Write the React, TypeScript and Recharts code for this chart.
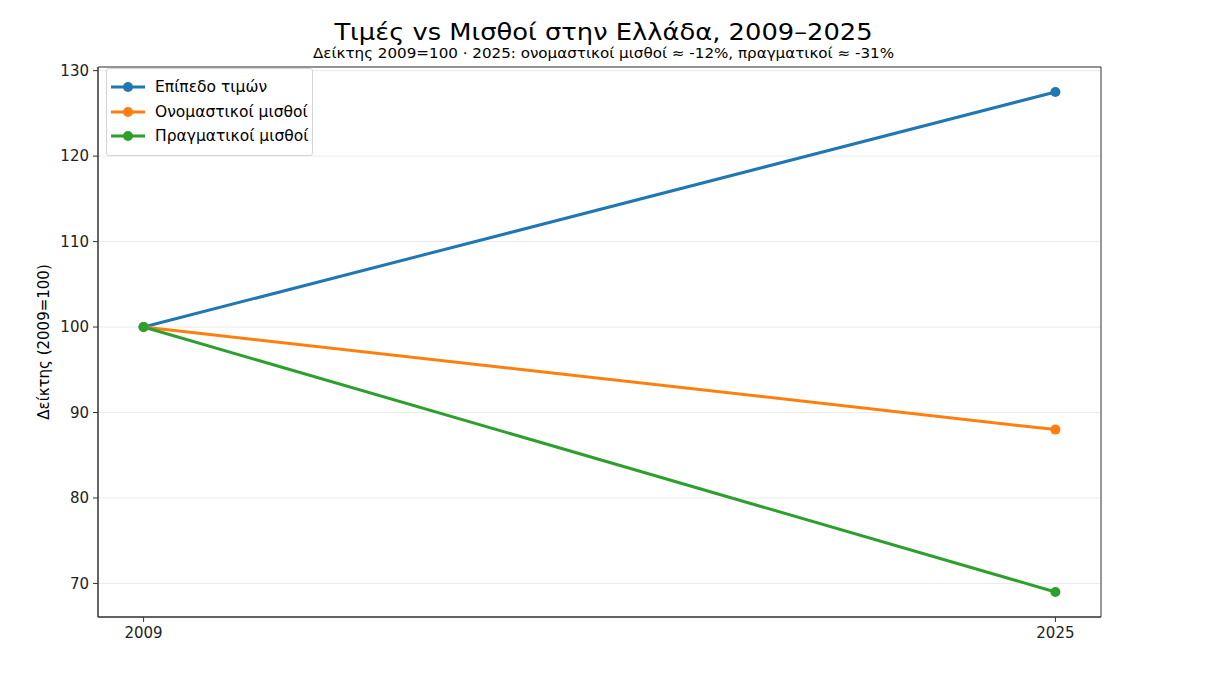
import { CartesianGrid, Line, LineChart, ReferenceArea, XAxis, YAxis } from "recharts";

const years = [2009, 2025];
const priceLevel = [100, 127.5];
const nominalWages = [100, 88];
const realWages = [100, 69];
const yTicks = [70, 80, 90, 100, 110, 120, 130];

const series = [
  { key: "price", name: "Επίπεδο τιμών", color: "#1f77b4", values: priceLevel },
  { key: "nominal", name: "Ονομαστικοί μισθοί", color: "#ff7f0e", values: nominalWages },
  { key: "real", name: "Πραγματικοί μισθοί", color: "#2ca02c", values: realWages },
];

const rows = years.map((year, i) => {
  const row: Record<string, number> = { year };
  series.forEach((s) => {
    row[s.key] = s.values[i];
  });
  return row;
});

const FONT = "'DejaVu Sans', sans-serif";
const W = 1207;
const H = 693;
const X_DOMAIN: [number, number] = [2008.2, 2025.8];
const Y_DOMAIN: [number, number] = [66.075, 130.425];

export default function App() {
  return (
    <div
      style={{
        position: "absolute",
        left: 0,
        top: 0,
        width: W,
        height: H,
        background: "#fff",
        fontFamily: FONT,
        color: "#000",
      }}
    >
      <div
        style={{
          position: "absolute",
          left: 0,
          width: W,
          top: 19,
          textAlign: "center",
          fontSize: 23,
          lineHeight: "26px",
          transform: "scaleX(1.12)",
          transformOrigin: "center",
        }}
      >
        Τιμές vs Μισθοί στην Ελλάδα, 2009–2025
      </div>
      <div
        style={{
          position: "absolute",
          left: 0,
          width: W,
          top: 45,
          textAlign: "center",
          fontSize: 13.5,
          lineHeight: "16px",
          transform: "scaleX(1.12)",
          transformOrigin: "center",
        }}
      >
        Δείκτης 2009=100 · 2025: ονομαστικοί μισθοί ≈ -12%, πραγματικοί ≈ -31%
      </div>

      <LineChart
        width={W}
        height={H}
        data={rows}
        margin={{ top: 67, right: 106, bottom: 46, left: 38 }}
        style={{ position: "absolute", left: 0, top: 0 }}
      >
        <CartesianGrid horizontal vertical={false} stroke="#ebebeb" strokeWidth={1} />
        <XAxis
          dataKey="year"
          type="number"
          domain={X_DOMAIN}
          ticks={years}
          height={30}
          allowDataOverflow
          tick={{ fill: "#222", fontSize: 15, fontFamily: FONT }}
          tickSize={5}
          tickMargin={5}
          stroke="#333"
        />
        <YAxis
          type="number"
          domain={Y_DOMAIN}
          ticks={yTicks}
          allowDataOverflow
          width={60}
          tick={{ fill: "#222", fontSize: 15, fontFamily: FONT }}
          tickSize={5}
          tickMargin={4}
          stroke="#333"
          label={{
            value: "Δείκτης (2009=100)",
            angle: -90,
            position: "insideLeft",
            offset: 0,
            dx: 6,
            style: { textAnchor: "middle", fill: "#000", fontSize: 15, fontFamily: FONT },
          }}
        />
        <ReferenceArea
          x1={X_DOMAIN[0]}
          x2={X_DOMAIN[1]}
          y1={Y_DOMAIN[0]}
          y2={Y_DOMAIN[1]}
          fill="none"
          fillOpacity={0}
          stroke="#333"
          strokeWidth={1}
          ifOverflow="extendDomain"
        />
        {series.map((s) => (
          <Line
            key={s.key}
            type="linear"
            dataKey={s.key}
            name={s.name}
            stroke={s.color}
            strokeWidth={3}
            dot={{ r: 5, fill: s.color, stroke: s.color, strokeWidth: 0 }}
            activeDot={false}
            isAnimationActive={false}
          />
        ))}
      </LineChart>

      <div
        style={{
          position: "absolute",
          left: 106,
          top: 68,
          padding: "6px 4px 6px 0",
          border: "1px solid #d5d5d5",
          borderRadius: 3,
          background: "rgba(255,255,255,0.85)",
          fontSize: 15.5,
        }}
      >
        {series.map((s) => (
          <div
            key={s.key}
            style={{ display: "flex", alignItems: "center", height: 24.5 }}
          >
            <svg width={48} height={12} style={{ flex: "none" }}>
              <line x1={4} y1={6} x2={38} y2={6} stroke={s.color} strokeWidth={3} />
              <circle cx={21} cy={6} r={5} fill={s.color} />
            </svg>
            <span style={{ whiteSpace: "nowrap" }}>{s.name}</span>
          </div>
        ))}
      </div>
    </div>
  );
}
